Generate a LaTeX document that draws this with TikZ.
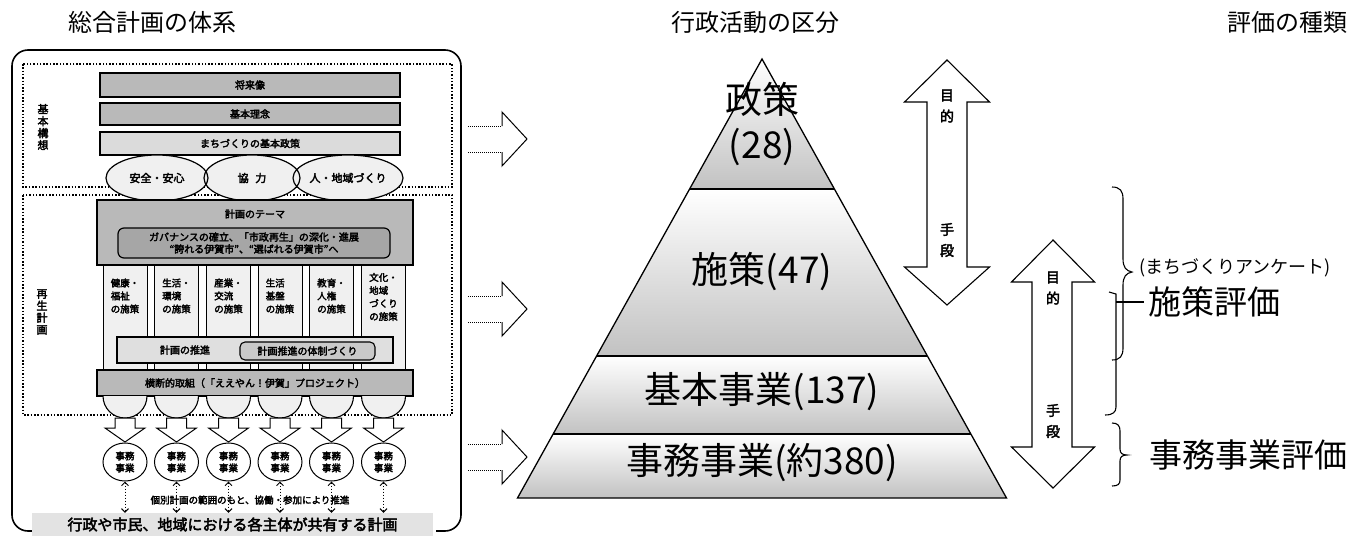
\documentclass[tikz,border=0pt]{standalone}
\usepackage{fontspec}
\newfontfamily\jp{Noto Sans CJK JP}
\newfontfamily\jpb[FakeBold=3]{Noto Sans CJK JP}
\usetikzlibrary{arrows.meta,shapes.geometric}
\begin{document}
\begin{tikzpicture}[x=1pt,y=-1pt,
  ttl/.style={font=\jp\fontsize{24}{26}\selectfont, inner sep=0},
  pyr/.style={font=\jp\fontsize{37}{40}\selectfont, inner sep=0},
  sm/.style={font=\jpb\fontsize{10}{12.5}\selectfont, inner sep=0, align=center},
  darkbar/.style={draw, line width=1.3pt, fill=gray!55, sm, inner sep=0},
  lightbar/.style={draw, line width=1.3pt, fill=gray!28, sm, inner sep=0},
  colbox/.style={draw, line width=1pt, fill=gray!12, inner sep=0, minimum width=44, minimum height=105},
  coltxt/.style={font=\jpb\fontsize{9.5}{13}\selectfont, inner sep=0, align=left},
  dotbox/.style={line width=1.7pt, dash pattern=on 1.5pt off 1.8pt},
  jm/.style={draw, ellipse, line width=1pt, fill=white, minimum width=44, minimum height=38, inner sep=0, font=\jpb\fontsize{9.5}{12}\selectfont, align=center},
  dotarrow/.style={line width=1pt, dash pattern=on 1pt off 2pt, {Straight Barb[length=3.5pt,width=7pt]}-{Straight Barb[length=3.5pt,width=7pt]}},
  dalbl/.style={font=\jpb\fontsize{14}{21}\selectfont, inner sep=0, align=center},
  evtxt/.style={font=\jp\fontsize{33}{36}\selectfont, inner sep=0, anchor=west}
]
\useasboundingbox (0,0) rectangle (1351,536);

% titles
\node[ttl] (t1) at (152,22) {総合計画の体系};
\node[ttl] (t2) at (755,22) {行政活動の区分};
\node[ttl] (t3) at (1287,22) {評価の種類};

% ===== left panel =====
\draw[line width=1.6pt, rounded corners=16pt] (32,531) -| (12,50) -| (461,531) -- (436,531);
\draw[dotbox] (23,64) rectangle (452,187);
\draw[dotbox] (23,195) rectangle (452,415);

\node[font=\jpb\fontsize{11}{12}\selectfont, inner sep=0, align=center] (lb1) at (43,127) {基\\本\\構\\想};
\node[font=\jpb\fontsize{11}{12}\selectfont, inner sep=0, align=center] (lb2) at (42,312) {再\\生\\計\\画};

\node[darkbar, minimum width=300, minimum height=24] (bar1) at (250,85) {将来像};
\node[darkbar, minimum width=300, minimum height=22] (bar2) at (250,114) {基本理念};
\node[lightbar, minimum width=300, minimum height=23] (bar3) at (250,143.5) {まちづくりの基本政策};

% bubbles
\fill[gray!12] (157,178) ellipse [x radius=51, y radius=23];
\fill[gray!12] (252,178) ellipse [x radius=48, y radius=23];
\fill[gray!12] (348,178) ellipse [x radius=55, y radius=23];
\draw[line width=1.2pt] (157,178) ellipse [x radius=51, y radius=23];
\draw[line width=1.2pt] (252,178) ellipse [x radius=48, y radius=23];
\draw[line width=1.2pt] (348,178) ellipse [x radius=55, y radius=23];
\node[font=\jpb\fontsize{11}{12}\selectfont, inner sep=0] (bb1) at (157,178) {安全・安心};
\node[font=\jpb\fontsize{11}{12}\selectfont, inner sep=0] (bb2) at (252,178) {協\hspace{0.6em}力};
\node[font=\jpb\fontsize{11}{12}\selectfont, inner sep=0] (bb3) at (348,178) {人・地域づくり};

% columns
\node[colbox] (c1) at (125,317.5) {};
\node[colbox] (c2) at (176.5,317.5) {};
\node[colbox] (c3) at (228.5,317.5) {};
\node[colbox] (c4) at (280,317.5) {};
\node[colbox] (c5) at (331.5,317.5) {};
\node[colbox] (c6) at (383.5,317.5) {};
\node[coltxt] (ct1) at (125,296) {健康・\\福祉\\の施策};
\node[coltxt] (ct2) at (176.5,296) {生活・\\環境\\の施策};
\node[coltxt] (ct3) at (228.5,296) {産業・\\交流\\の施策};
\node[coltxt] (ct4) at (280,296) {生活\\基盤\\の施策};
\node[coltxt] (ct5) at (331.5,296) {教育・\\人権\\の施策};
\node[coltxt] (ct6) at (383.5,297) {文化・\\地域\\づくり\\の施策};

% theme box
\node[darkbar, minimum width=316, minimum height=65] (theme) at (255,232.5) {};
\node[sm] (themet) at (255,214) {計画のテーマ};
\node[draw, line width=1.2pt, fill=gray!70, rounded corners=6pt, minimum width=272, minimum height=30, inner sep=0] (gov) at (254,243) {};
\node[font=\jpb\fontsize{10}{12}\selectfont, inner sep=0, align=center] (govt) at (254,243) {ガバナンスの確立、「市政再生」の深化・進展\\“誇れる伊賀市”、“選ばれる伊賀市”へ};

% promotion box
\node[draw, line width=1.3pt, fill=gray!25, minimum width=276, minimum height=26, inner sep=0] (prom) at (255,350) {};
\node[sm] (promt) at (185,350) {計画の推進};
\node[draw, line width=1.1pt, fill=gray!42, rounded corners=5pt, minimum width=135, minimum height=18, inner sep=0, sm] (taisei) at (307.5,351) {計画推進の体制づくり};

% cross-cutting bar
\node[darkbar, minimum width=316, minimum height=26] (cross) at (255,383) {横断的取組（「ええやん！伊賀」プロジェクト）};

% half circles, down arrows
\foreach \cx in {125,176.5,228.5,280,331.5,383.5}{
  \draw[line width=1.1pt, fill=gray!12] (\cx-22,396) arc[start angle=180, end angle=0, radius=22];
  \draw[line width=1pt, fill=white] (\cx-10,418) -- (\cx+10,418) -- (\cx+10,428) -- (\cx+20,428) -- (\cx,442) -- (\cx-20,428) -- (\cx-10,428) -- cycle;
}

% office work circles
\node[jm] (e1) at (125,462) {事務\\事業};
\node[jm] (e2) at (176.5,462) {事務\\事業};
\node[jm] (e3) at (228.5,462) {事務\\事業};
\node[jm] (e4) at (280,462) {事務\\事業};
\node[jm] (e5) at (331.5,462) {事務\\事業};
\node[jm] (e6) at (383.5,462) {事務\\事業};

% bottom band
\node[fill=gray!22, minimum width=401, minimum height=23, inner sep=0, font=\jpb\fontsize{15}{16}\selectfont] (band) at (232.5,524.5) {行政や市民、地域における各主体が共有する計画};

\foreach \e in {e1,e2,e3,e4,e5,e6}{
  \draw[dotarrow] (\e.south) -- (\e.south |- band.north);
}
\node[font=\jpb\fontsize{9.5}{11}\selectfont, inner sep=0] (mid) at (250,500) {個別計画の範囲のもと、協働・参加により推進};

% ===== block arrows to pyramid =====
\foreach \cy in {139,309,457}{
  \draw[line width=1pt, dash pattern=on 1pt off 1pt] (468,\cy-13) -- (502,\cy-13);
  \draw[line width=1pt, dash pattern=on 1pt off 1pt] (468,\cy+13) -- (502,\cy+13);
  \draw[line width=1pt] (502,\cy-13) -- (502,\cy-27) -- (527,\cy) -- (502,\cy+27) -- (502,\cy+13);
}

% ===== pyramid =====
\shade[top color=white, bottom color=gray!48] (762,59) -- (834.4,189) -- (689.6,189) -- cycle;
\shade[top color=white, bottom color=gray!48] (689.6,189) -- (834.4,189) -- (927.4,356) -- (596.6,356) -- cycle;
\shade[top color=white, bottom color=gray!48] (596.6,356) -- (927.4,356) -- (970.9,434) -- (553.1,434) -- cycle;
\shade[top color=white, bottom color=gray!48] (553.1,434) -- (970.9,434) -- (1006.5,498) -- (517.5,498) -- cycle;
\draw[line width=1.3pt, line join=miter] (762,59) -- (1006.5,498) -- (517.5,498) -- cycle;
\draw[line width=1.3pt] (689.6,189) -- (834.4,189);
\draw[line width=1.3pt] (596.6,356) -- (927.4,356);
\draw[line width=1.3pt] (553.1,434) -- (970.9,434);

\node[pyr] (p1) at (762,99) {政策};
\node[pyr] (p1b) at (762,147) {(28)};
\node[pyr] (p2) at (762,272) {施策(47)};
\node[pyr] (p3) at (762,392) {基本事業(137)};
\node[pyr] (p4) at (762,463) {事務事業(約380)};

% ===== double arrows =====
\draw[line width=1.1pt, fill=white] (947,60) -- (989.5,102) -- (967,102) -- (967,267) -- (989.5,267) -- (947,305) -- (904.5,267) -- (927,267) -- (927,102) -- (904.5,102) -- cycle;
\node[dalbl] (da1a) at (947,106) {目\\的};
\node[dalbl] (da1b) at (947,240) {手\\段};
\draw[line width=1.1pt, fill=white] (1053,240) -- (1094.5,282) -- (1072,282) -- (1072,447) -- (1094.5,447) -- (1053,488) -- (1011.5,447) -- (1032,447) -- (1032,282) -- (1011.5,282) -- cycle;
\node[dalbl] (da2a) at (1053,288) {目\\的};
\node[dalbl] (da2b) at (1053,421) {手\\段};

% ===== braces =====
\draw[line width=1.1pt] (1112,187) .. controls (1120,187) and (1123,191) .. (1123,199) -- (1123,259) .. controls (1123,267) and (1126,271) .. (1132,272) .. controls (1126,273) and (1123,277) .. (1123,285) -- (1123,348) .. controls (1123,356) and (1120,360) .. (1112,360);
\draw[line width=1.1pt] (1109,292) -- (1116,294) -- (1116,407) .. controls (1116,412) and (1113,415) .. (1105,415);
\draw[line width=1.1pt] (1116,302) -- (1144,302);
\draw[line width=1.1pt] (1112,423) .. controls (1118,423) and (1120,426) .. (1120,431) -- (1120,449) .. controls (1120,453) and (1122,455) .. (1127,455) .. controls (1122,455) and (1120,457) .. (1120,461) -- (1120,480) .. controls (1120,484) and (1118,486) .. (1112,486);

\node[font=\jp\fontsize{18}{20}\selectfont, inner sep=0, anchor=west] (enq) at (1139,268) {(まちづくりアンケート)};
\node[evtxt] (ev1) at (1148,302) {施策評価};
\node[evtxt] (ev2) at (1149,455) {事務事業評価};
\end{tikzpicture}
\end{document}
